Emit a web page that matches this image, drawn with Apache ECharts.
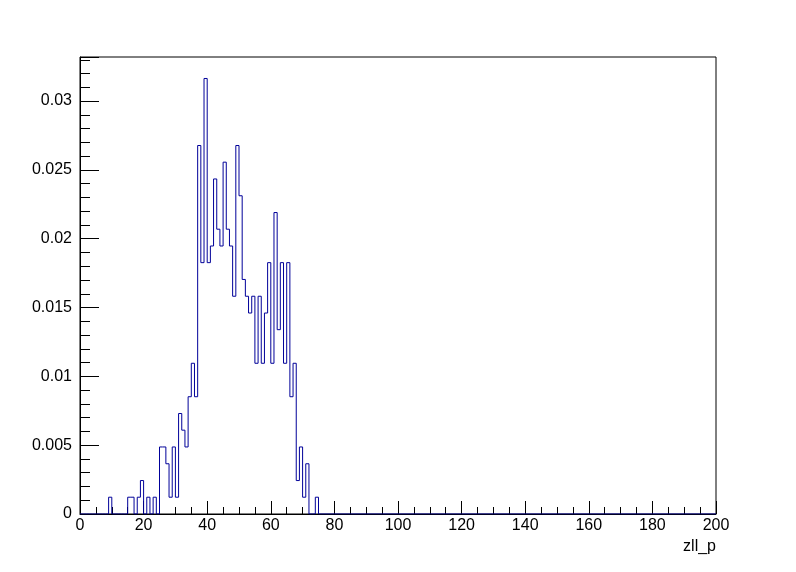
<!DOCTYPE html>
<html>
<head>
<meta charset="utf-8">
<script src="https://cdn.jsdelivr.net/npm/echarts@6/dist/echarts.min.js"></script>
<style>html,body{margin:0;padding:0;background:#fff;}#c{width:796px;height:572px;}</style>
</head>
<body>
<div id="c"></div>
<script>
// Histogram of zll_p: bin width 1, bins start at 0
const binStart = 0;
const binWidth = 1;
const values = [
  0, 0, 0, 0, 0, 0, 0, 0, 0, 0.00122,          // 0-9
  0, 0, 0, 0, 0, 0.00122, 0.00122, 0, 0.00122, 0.00243, // 10-19
  0, 0.00122, 0, 0.00122, 0, 0.00487, 0.00487, 0.00365, 0.00122, 0.00487, // 20-29
  0.00122, 0.0073, 0.00609, 0.00487, 0.00852, 0.01095, 0.00852, 0.02677, 0.01826, 0.03164, // 30-39
  0.01826, 0.01947, 0.02434, 0.02069, 0.01947, 0.02556, 0.02069, 0.01947, 0.01582, 0.02677, // 40-49
  0.02312, 0.01704, 0.01582, 0.0146, 0.01582, 0.01095, 0.01582, 0.01095, 0.0146, 0.01826, // 50-59
  0.01095, 0.0219, 0.01339, 0.01826, 0.01095, 0.01826, 0.00852, 0.01095, 0.00243, 0.00487, // 60-69
  0.00122, 0.00365, 0, 0, 0.00122                // 70-74
];
const xMin = 0, xMax = 200, xInterval = 20;
const yMin = 0, yMax = 0.0332, yInterval = 0.005;
const xTitle = 'zll_p';

const pts = [];
for (let i = 0; i < values.length; i++) pts.push([binStart + i * binWidth, values[i]]);
pts.push([binStart + values.length * binWidth, 0]);
pts.push([xMax, 0]);

const chart = echarts.init(document.getElementById('c'), null, {renderer: 'canvas'});
const font = 'Liberation Sans, Arial, Helvetica, sans-serif';
chart.setOption({
  animation: false,
  backgroundColor: '#ffffff',
  grid: {left: 80, right: 80, top: 57, bottom: 58, show: true, borderColor: '#000', borderWidth: 1, backgroundColor: 'transparent'},
  xAxis: {
    type: 'value', min: xMin, max: xMax, interval: xInterval,
    axisLine: {lineStyle: {color: '#000', width: 1}},
    axisTick: {inside: true, length: 13, lineStyle: {color: '#000'}},
    minorTick: {show: true, splitNumber: 4, length: 7, lineStyle: {color: '#000'}},
    splitLine: {show: false},
    axisLabel: {color: '#000', fontSize: 16, fontFamily: font, margin: 4},
    name: xTitle, nameLocation: 'end', nameGap: 0,
    nameTextStyle: {color: '#000', fontSize: 16, fontFamily: font, align: 'right', verticalAlign: 'top', padding: [25, 0, 0, 0]}
  },
  yAxis: {
    type: 'value', min: yMin, max: yMax, interval: yInterval,
    axisLine: {lineStyle: {color: '#000', width: 1}},
    axisTick: {inside: true, length: 19, lineStyle: {color: '#000'}},
    minorTick: {show: true, splitNumber: 5, length: 10, lineStyle: {color: '#000'}},
    splitLine: {show: false},
    axisLabel: {color: '#000', fontSize: 16, fontFamily: font, margin: 8, showMaxLabel: false,
      formatter: v => String(+v.toFixed(4))}
  },
  series: [{
    type: 'line', step: 'end', data: pts, showSymbol: false, symbol: 'none',
    lineStyle: {color: '#000099', width: 1}, z: 5
  }]
});
</script>
</body>
</html>
